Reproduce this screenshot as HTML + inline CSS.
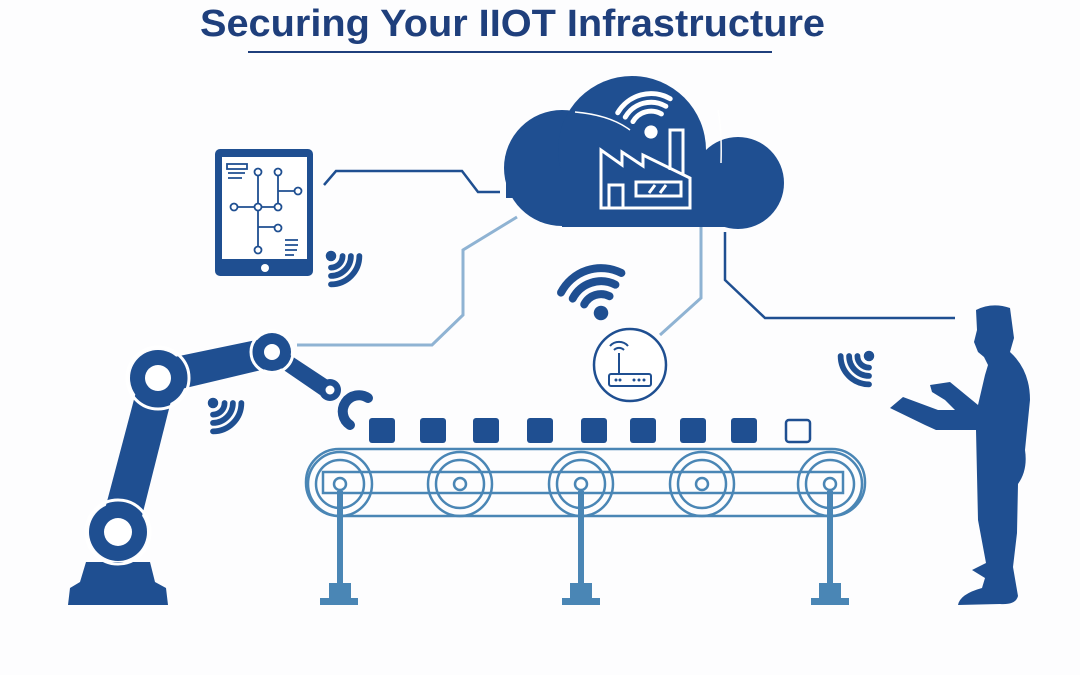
<!DOCTYPE html>
<html><head><meta charset="utf-8"><style>
html,body{margin:0;padding:0;background:#fdfdfe;}
svg{display:block;}
</style></head><body>
<svg width="1080" height="675" viewBox="0 0 1080 675" xmlns="http://www.w3.org/2000/svg">
<defs>
<g id="wf" fill="none" stroke="#1f4f91" stroke-width="5.5" stroke-linecap="round">
  <path d="M-7.8,-7.8 A11,11 0 0 1 7.8,-7.8"/>
  <path d="M-13.4,-13.4 A19,19 0 0 1 13.4,-13.4"/>
  <path d="M-19.1,-19.1 A27,27 0 0 1 19.1,-19.1"/>
  <circle cx="0" cy="0" r="5" fill="#1f4f91" stroke="none"/>
</g>
</defs>
<rect width="1080" height="675" fill="#fdfdfe"/>
<text x="200" y="36" font-family="Liberation Sans, sans-serif" font-weight="bold" font-size="38" fill="#1f3f7c" textLength="625" lengthAdjust="spacingAndGlyphs">Securing  Your IIOT Infrastructure</text>
<line x1="248" y1="52" x2="772" y2="52" stroke="#1f3f7c" stroke-width="2"/>

<!-- connectors -->
<polyline points="324,185 336,171 462,171 478,192 500,192" fill="none" stroke="#1f4f91" stroke-width="2.5"/>
<polyline points="517,217 463,250 463,315 432,345 297,345" fill="none" stroke="#8fb3d3" stroke-width="3"/>
<polyline points="701,222 701,298 660,335" fill="none" stroke="#8fb3d3" stroke-width="3"/>
<polyline points="725,232 725,280 765,318 955,318" fill="none" stroke="#1f4f91" stroke-width="2.5"/>

<!-- cloud -->
<g fill="#1f4f91">
<circle cx="562" cy="168" r="58"/>
<circle cx="632" cy="150" r="74"/>
<circle cx="738" cy="183" r="46"/>
<rect x="562" y="150" width="176" height="77"/>
<rect x="506" y="168" width="60" height="30"/>
</g>
<path d="M575,112 Q610,115 630,130" fill="none" stroke="#fff" stroke-width="1.5"/>
<path d="M718,110 Q722,130 721,163" fill="none" stroke="#fff" stroke-width="1.5"/>
<!-- factory -->
<g fill="none" stroke="#fff" stroke-width="3">
<path d="M601,208 L601,150 L622,165 L622,152 L643,166 L643,155 L690,178 L690,208 Z"/>
<path d="M670,170 L670,130 L683,130 L683,175"/>
<rect x="609" y="185" width="14" height="23"/>
<rect x="636" y="182" width="45" height="14"/>
<path d="M649,193 L655,185 M660,193 L666,185"/>
</g>
<g transform="translate(651,132) rotate(-15) scale(1.1)">
<g fill="none" stroke="#fff" stroke-width="4.5" stroke-linecap="round">
  <path d="M-13.4,-13.4 A19,19 0 0 1 13.4,-13.4"/>
  <path d="M-19.1,-19.1 A27,27 0 0 1 19.1,-19.1"/>
  <path d="M-24.7,-24.7 A35,35 0 0 1 24.7,-24.7"/>
</g><circle r="6" fill="#fff"/></g>

<!-- tablet -->
<rect x="215" y="149" width="98" height="127" rx="5" fill="#1f4f91"/>
<rect x="222" y="157" width="85" height="102" fill="#fff"/>
<circle cx="265" cy="268" r="4" fill="#fff"/>
<g stroke="#1f4f91" stroke-width="1.8" fill="#fff">
<rect x="227" y="164" width="20" height="5" fill="none"/>
<path d="M228,173 H245 M228,178 H242" fill="none"/>
<path d="M285,240 H298 M285,245 H298 M285,250 H297 M285,255 H294" fill="none"/>
<path d="M258,172 V250 M278,172 V207 M278,191 H298 M234,207 H278 M258,227 H278" fill="none"/>
<circle cx="258" cy="172" r="3.5"/><circle cx="278" cy="172" r="3.5"/>
<circle cx="298" cy="191" r="3.5"/><circle cx="234" cy="207" r="3.5"/>
<circle cx="258" cy="207" r="3.5"/><circle cx="278" cy="207" r="3.5"/>
<circle cx="278" cy="228" r="3.5"/><circle cx="258" cy="250" r="3.5"/>
</g>

<!-- wifi icons -->
<use href="#wf" transform="translate(331,256) rotate(135) scale(1.05)"/>
<use href="#wf" transform="translate(213,403) rotate(135) scale(1.05)"/>
<use href="#wf" transform="translate(869,356) rotate(225) scale(1.05)"/>
<g transform="translate(601,313) rotate(-18) scale(1.45)">
<g fill="none" stroke="#1f4f91" stroke-width="5.5" stroke-linecap="round">
  <path d="M-9.2,-9.2 A13,13 0 0 1 9.2,-9.2"/>
  <path d="M-15.5,-15.5 A22,22 0 0 1 15.5,-15.5"/>
  <path d="M-21.9,-21.9 A31,31 0 0 1 21.9,-21.9"/>
</g><circle r="5" fill="#1f4f91"/></g>

<!-- router -->
<circle cx="630" cy="365" r="36" fill="#fff" stroke="#1f4f91" stroke-width="2.5"/>
<g fill="none" stroke="#1f4f91" stroke-width="2">
<rect x="609" y="374" width="42" height="12" rx="2"/>
<path d="M619,374 V353"/>
<path d="M614,350 A7,7 0 0 1 624,350 M610,346 A12,12 0 0 1 628,346"/>
</g>
<g fill="#1f4f91"><circle cx="616" cy="380" r="1.5"/><circle cx="620" cy="380" r="1.5"/><circle cx="634" cy="380" r="1.5"/><circle cx="639" cy="380" r="1.5"/><circle cx="644" cy="380" r="1.5"/></g>

<!-- boxes -->
<g fill="#1f4f91">
<rect x="369" y="418" width="26" height="25" rx="3"/>
<rect x="420" y="418" width="26" height="25" rx="3"/>
<rect x="473" y="418" width="26" height="25" rx="3"/>
<rect x="527" y="418" width="26" height="25" rx="3"/>
<rect x="581" y="418" width="26" height="25" rx="3"/>
<rect x="630" y="418" width="26" height="25" rx="3"/>
<rect x="680" y="418" width="26" height="25" rx="3"/>
<rect x="731" y="418" width="26" height="25" rx="3"/>
</g>
<rect x="786" y="420" width="24" height="22" rx="3" fill="none" stroke="#1f4f91" stroke-width="2.5"/>

<!-- conveyor -->
<g fill="none" stroke="#4a86b5" stroke-width="2.5">
<rect x="306" y="449" width="559" height="67" rx="33"/>
<rect x="323" y="472" width="520" height="21"/>
<circle cx="340" cy="484" r="32"/><circle cx="340" cy="484" r="24"/><circle cx="340" cy="484" r="6" fill="#fff"/>
<circle cx="460" cy="484" r="32"/><circle cx="460" cy="484" r="24"/><circle cx="460" cy="484" r="6"/>
<circle cx="581" cy="484" r="32"/><circle cx="581" cy="484" r="24"/><circle cx="581" cy="484" r="6" fill="#fff"/>
<circle cx="702" cy="484" r="32"/><circle cx="702" cy="484" r="24"/><circle cx="702" cy="484" r="6"/>
<circle cx="830" cy="484" r="32"/><circle cx="830" cy="484" r="24"/><circle cx="830" cy="484" r="6" fill="#fff"/>
</g>
<g fill="#4a86b5">
<rect x="337" y="491" width="6" height="94"/><rect x="329" y="583" width="22" height="16"/><rect x="320" y="598" width="38" height="7"/>
<rect x="578" y="491" width="6" height="94"/><rect x="570" y="583" width="22" height="16"/><rect x="562" y="598" width="38" height="7"/>
<rect x="827" y="491" width="6" height="94"/><rect x="819" y="583" width="22" height="16"/><rect x="811" y="598" width="38" height="7"/>
</g>

<!-- robot -->
<g fill="#1f4f91">
<path d="M68,605 L168,605 L166,588 L155,582 L150,562 L86,562 L80,582 L70,588 Z"/>
<polygon points="100,528 138,532 175,385 141,373"/>
<polygon points="160,360 156,395 270,368 266,338"/>
<polygon points="275,345 269,360 320,395 328,380"/>
<circle cx="118" cy="532" r="29"/>
<circle cx="158" cy="378" r="28"/>
<circle cx="272" cy="352" r="19"/>
<circle cx="330" cy="390" r="11"/>
</g>
<g fill="none" stroke="#fff" stroke-width="3">
<circle cx="118" cy="532" r="32"/><circle cx="158" cy="378" r="31"/><circle cx="272" cy="352" r="21"/>
</g>
<g fill="#fff"><circle cx="118" cy="532" r="14"/><circle cx="158" cy="378" r="13"/><circle cx="272" cy="352" r="8"/><circle cx="330" cy="390" r="4.5"/></g>
<path d="M368,398 A15,15 0 1 0 350,425" fill="none" stroke="#1f4f91" stroke-width="10" stroke-linecap="round"/>

<!-- person -->
<path fill="#1f4f91" d="M976,310 Q992,302 1010,308 L1014,338 L1010,352 Q1030,370 1030,400 L1025,450 Q1028,470 1018,484 L1017,533 L1013,567 L1018,596 Q1016,605 1000,604 L958,605 Q960,594 982,588 L985,578 L972,570 L986,563 L978,520 L976,430 L936,430 L925,425 L890,408 L903,397 L938,410 L955,410 L945,400 L932,392 L930,385 L950,382 L978,405 L985,375 L988,365 L984,357 L978,352 L974,342 L977,330 Z"/>
</svg>
</body></html>
